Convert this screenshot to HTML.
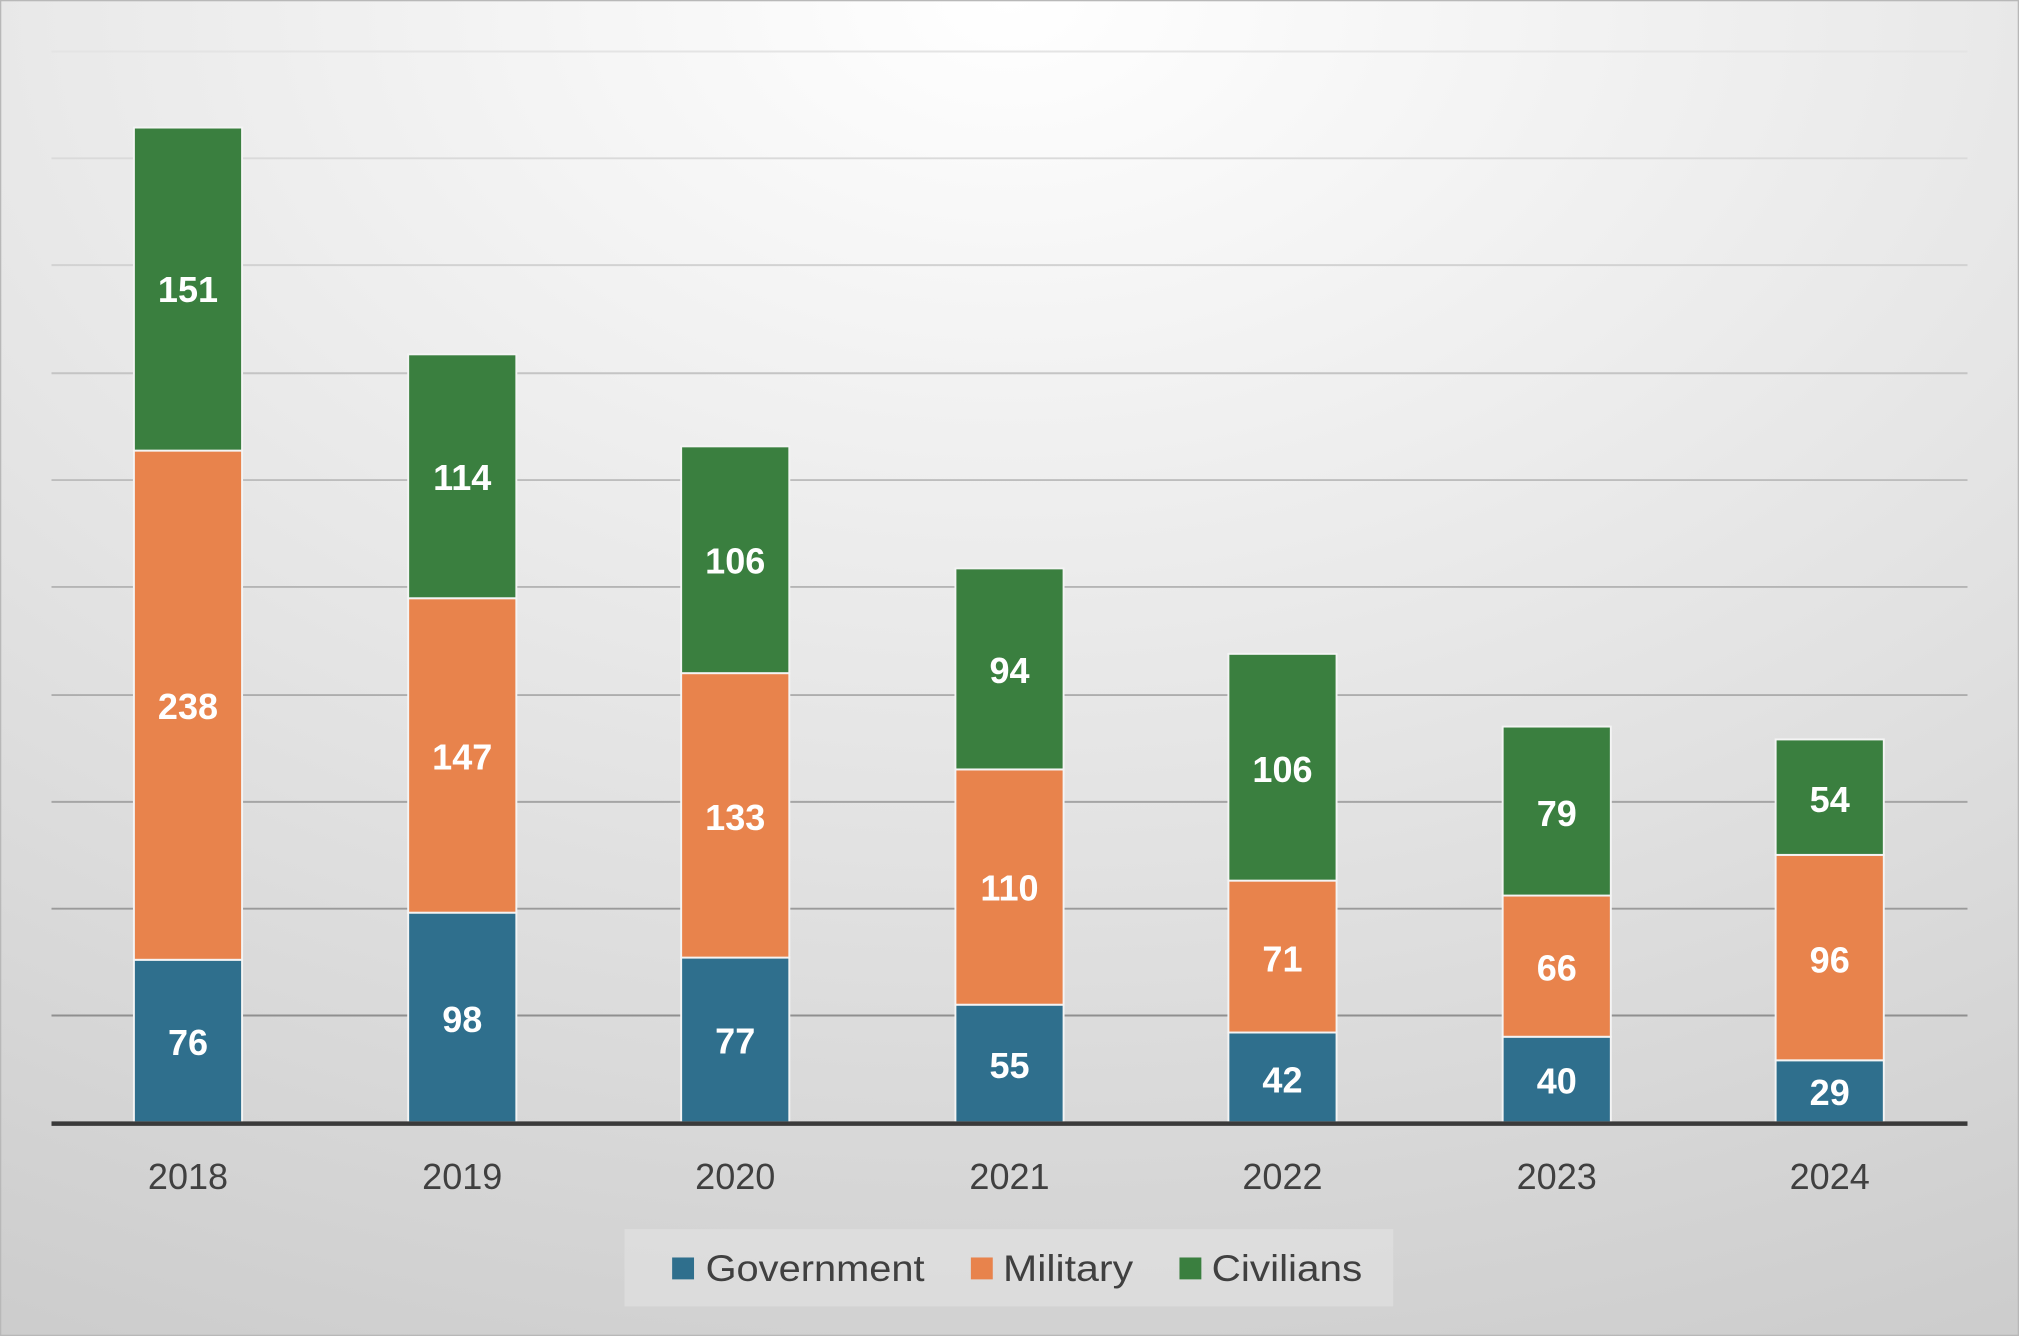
<!DOCTYPE html>
<html><head><meta charset="utf-8"><style>
html,body{margin:0;padding:0;width:2019px;height:1336px;overflow:hidden;}
svg{display:block;}
</style></head><body>
<svg width="2019" height="1336" viewBox="0 0 1568 1038" preserveAspectRatio="none" xmlns="http://www.w3.org/2000/svg" font-family="Liberation Sans, sans-serif">
<defs>
<radialGradient id="bg" cx="0.5" cy="0" r="1.1" fx="0.5" fy="0">
<stop offset="0" stop-color="#ffffff"/><stop offset="1" stop-color="#cdcdcd"/>
</radialGradient>
</defs>
<rect x="0.5" y="0.5" width="1567" height="1037" fill="url(#bg)" stroke="#b8b8b8"/>
<g stroke="#c4c4c4" stroke-width="1.5">
<line x1="40" x2="1528" y1="40" y2="40" stroke="#e4e4e4"/>
<line x1="40" x2="1528" y1="123" y2="123" stroke="#dadada"/>
<line x1="40" x2="1528" y1="206" y2="206" stroke="#d2d2d2"/>
<line x1="40" x2="1528" y1="290" y2="290"/>
<line x1="40" x2="1528" y1="373" y2="373" stroke="#bdbdbd"/>
<line x1="40" x2="1528" y1="456" y2="456" stroke="#b5b5b5"/>
<line x1="40" x2="1528" y1="540" y2="540" stroke="#adadad"/>
<line x1="40" x2="1528" y1="623" y2="623" stroke="#a5a5a5"/>
<line x1="40" x2="1528" y1="706" y2="706" stroke="#9a9a9a"/>
<line x1="40" x2="1528" y1="789" y2="789" stroke="#8f8f8f"/>
</g>
<g stroke="#f4f4f4" stroke-width="1.5">
<rect x="104" y="745.7" width="84" height="126.3" fill="#2f6f8d"/>
<rect x="104" y="350.1" width="84" height="395.6" fill="#e8834c"/>
<rect x="104" y="99.1" width="84" height="251" fill="#3a7f3f"/>
<rect x="317" y="709.1" width="84" height="162.9" fill="#2f6f8d"/>
<rect x="317" y="464.8" width="84" height="244.3" fill="#e8834c"/>
<rect x="317" y="275.3" width="84" height="189.5" fill="#3a7f3f"/>
<rect x="529" y="744" width="84" height="128" fill="#2f6f8d"/>
<rect x="529" y="523" width="84" height="221" fill="#e8834c"/>
<rect x="529" y="346.8" width="84" height="176.2" fill="#3a7f3f"/>
<rect x="742" y="780.6" width="84" height="91.4" fill="#2f6f8d"/>
<rect x="742" y="597.8" width="84" height="182.8" fill="#e8834c"/>
<rect x="742" y="441.6" width="84" height="156.2" fill="#3a7f3f"/>
<rect x="954" y="802.2" width="84" height="69.8" fill="#2f6f8d"/>
<rect x="954" y="684.2" width="84" height="118" fill="#e8834c"/>
<rect x="954" y="508" width="84" height="176.2" fill="#3a7f3f"/>
<rect x="1167" y="805.5" width="84" height="66.5" fill="#2f6f8d"/>
<rect x="1167" y="695.8" width="84" height="109.7" fill="#e8834c"/>
<rect x="1167" y="564.5" width="84" height="131.3" fill="#3a7f3f"/>
<rect x="1379" y="823.8" width="84" height="48.2" fill="#2f6f8d"/>
<rect x="1379" y="664.2" width="84" height="159.6" fill="#e8834c"/>
<rect x="1379" y="574.5" width="84" height="89.7" fill="#3a7f3f"/>
</g>
<line x1="40" x2="1528" y1="873" y2="873" stroke="#3a3a3a" stroke-width="3.5"/>
<g fill="#ffffff" font-weight="bold" font-size="28" text-anchor="middle" dominant-baseline="central">
<text x="146" y="810">76</text><text x="146" y="549">238</text><text x="146" y="225">151</text>
<text x="359" y="792">98</text><text x="359" y="588">147</text><text x="359" y="371">114</text>
<text x="571" y="809">77</text><text x="571" y="635">133</text><text x="571" y="436">106</text>
<text x="784" y="828">55</text><text x="784" y="690">110</text><text x="784" y="521">94</text>
<text x="996" y="839">42</text><text x="996" y="745">71</text><text x="996" y="598">106</text>
<text x="1209" y="840">40</text><text x="1209" y="752">66</text><text x="1209" y="632">79</text>
<text x="1421" y="849">29</text><text x="1421" y="746">96</text><text x="1421" y="621">54</text>
</g>
<g fill="#404040" font-size="28" text-anchor="middle" dominant-baseline="central">
<text x="146" y="914">2018</text><text x="359" y="914">2019</text><text x="571" y="914">2020</text>
<text x="784" y="914">2021</text><text x="996" y="914">2022</text><text x="1209" y="914">2023</text>
<text x="1421" y="914">2024</text>
</g>
<rect x="485" y="955" width="597" height="60" fill="#dedede" opacity="0.8"/>
<rect x="522" y="977" width="17" height="17" fill="#2f6f8d"/>
<rect x="754" y="977" width="17" height="17" fill="#e8834c"/>
<rect x="916" y="977" width="17" height="17" fill="#3a7f3f"/>
<g fill="#404040" font-size="29" dominant-baseline="central">
<text x="548" y="985" textLength="170" lengthAdjust="spacingAndGlyphs">Government</text>
<text x="779" y="985" textLength="101" lengthAdjust="spacingAndGlyphs">Military</text>
<text x="941" y="985" textLength="117" lengthAdjust="spacingAndGlyphs">Civilians</text>
</g>
</svg>
</body></html>
